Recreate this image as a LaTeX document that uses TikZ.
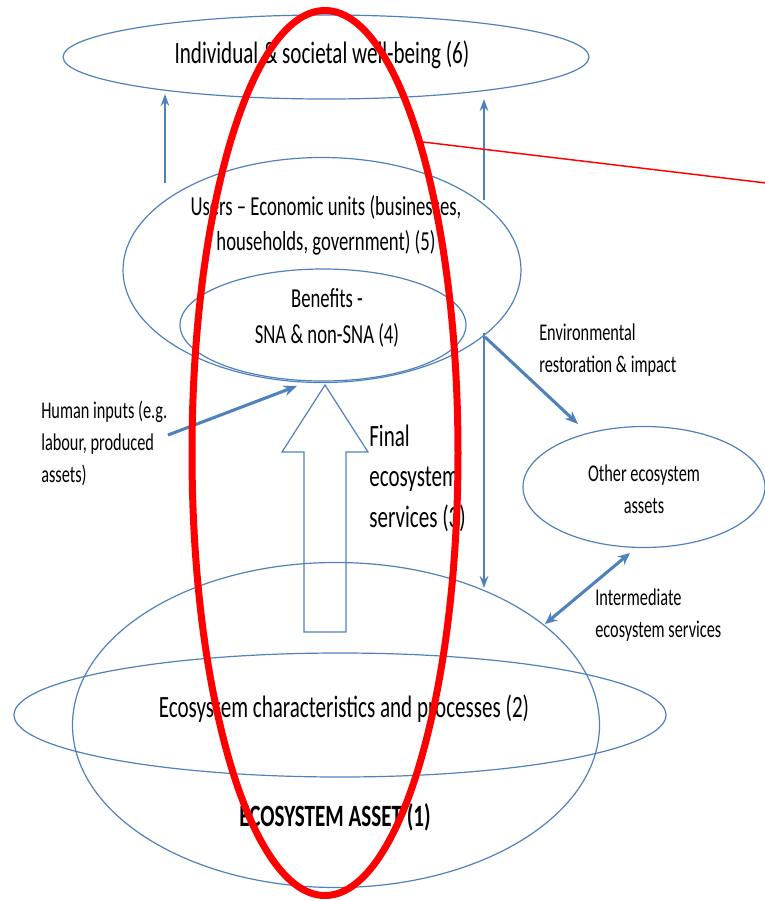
\documentclass[tikz,border=0pt]{standalone}
\usepackage{fontspec}
\setmainfont{Carlito}[FakeStretch=0.68]
\usetikzlibrary{shapes.geometric,arrows.meta}
\newlength\pxu \setlength\pxu{0.75pt}
\definecolor{ofblue}{RGB}{79,129,189}
\begin{document}
\begin{tikzpicture}[x=0.75pt,y=-0.75pt,
  ell/.style={draw=ofblue, line width=0.9pt, ellipse, inner sep=0pt},
  bigtxt/.style={font=\fontsize{23.25pt}{30.4pt}\selectfont, inner sep=0pt},
  medtxt/.style={font=\fontsize{20.6pt}{26.5pt}\selectfont, align=center, inner sep=0pt},
  smalltxt/.style={font=\fontsize{18pt}{24pt}\selectfont, inner sep=0pt},
  thinarr/.style={draw=ofblue, line width=1.5pt, -{Stealth[length=9pt,width=6.5pt]}},
  thickarr/.style={draw=ofblue, line width=2.3pt, -{Stealth[length=10pt,width=8pt]}},
  dblarr/.style={draw=ofblue, line width=2.3pt, {Stealth[length=9pt,width=8pt]}-{Stealth[length=9pt,width=8pt]}},
  hollow/.style={draw=ofblue, line width=0.9pt},
  focus/.style={draw=red, line width=5.25pt, ellipse, inner sep=0pt}]
\useasboundingbox (0,0) rectangle (765,901);

% ellipses
\node[ell, minimum width=526\pxu, minimum height=84\pxu] (wellbeing) at (326,57) {};
\node[ell, minimum width=398\pxu, minimum height=225\pxu] (users) at (322,270) {};
\node[ell, minimum width=286\pxu, minimum height=112\pxu] (benefits) at (323,325) {};
\node[ell, minimum width=242\pxu, minimum height=121\pxu] (other) at (644,487) {};

% big hollow arrow
\draw[hollow] (304,632) -- (304,452) -- (282,452) -- (325,385) -- (368,452) -- (346,452) -- (346,632) -- cycle;

\node[ell, minimum width=527\pxu, minimum height=325\pxu] (asset) at (336,725) {};
\node[ell, minimum width=652\pxu, minimum height=124\pxu] (charac) at (340,715) {};

% texts
\node[bigtxt] (wellbeingtxt) at (322,55) {Individual \& societal well-being (6)};
\node[medtxt] (userstxt) at (326,225) {Users – Economic units (businesses,\\households, government) (5)};
\node[medtxt] (benefitstxt) at (327,318) {Benefits -\\SNA \& non-SNA (4)};
\node[bigtxt] (charactxt) at (344,709) {Ecosystem characteristics and processes (2)};
\node[inner sep=0pt, font={\fontsize{23.25pt}{30.4pt}\selectfont\bfseries}] (assettxt) at (335,817) {ECOSYSTEM ASSET (1)};
\node[smalltxt, align=center] (othertxt) at (644,489) {Other ecosystem\\assets};
\node[smalltxt, align=left, anchor=west] (humantxt) at (41,443) {Human inputs (e.g.\\labour, produced\\assets)};
\node[bigtxt, align=left, anchor=west] (finaltxt) at (369,478) {Final\\ecosystem\\services (3)};
\node[smalltxt, align=left, anchor=west] (envtxt) at (539,350) {Environmental\\restoration \& impact};
\node[smalltxt, align=left, anchor=west] (intertxt) at (595,615) {Intermediate\\ecosystem services};

% arrow end points
\coordinate (l1) at (165,183); \coordinate (l2) at (165,94);
\coordinate (r1) at (484,200); \coordinate (r2) at (484,99);
\coordinate (d1) at (484,333); \coordinate (d2) at (484,588);
\coordinate (h1) at (168,435); \coordinate (h2) at (297,386);
\coordinate (e1) at (485,337); \coordinate (e2) at (578,424);
\coordinate (i1) at (630,553); \coordinate (i2) at (545,624);

\draw[thinarr] (l1) -- (l2);
\draw[thinarr] (r1) -- (r2);
\draw[thinarr] (d1) -- (d2);
\draw[thickarr] (h1) -- (h2);
\draw[thickarr] (e1) -- (e2);
\draw[dblarr] (i1) -- (i2);

% red focus ellipse and callout line
\node[focus, minimum width=266\pxu, minimum height=885\pxu] (focusell) at (325,453) {};
\coordinate (redstart) at (423,142);
\coordinate (redend) at (766,183);
\draw[red, line width=1.1pt] (redstart) -- (redend);
\end{tikzpicture}
\end{document}
